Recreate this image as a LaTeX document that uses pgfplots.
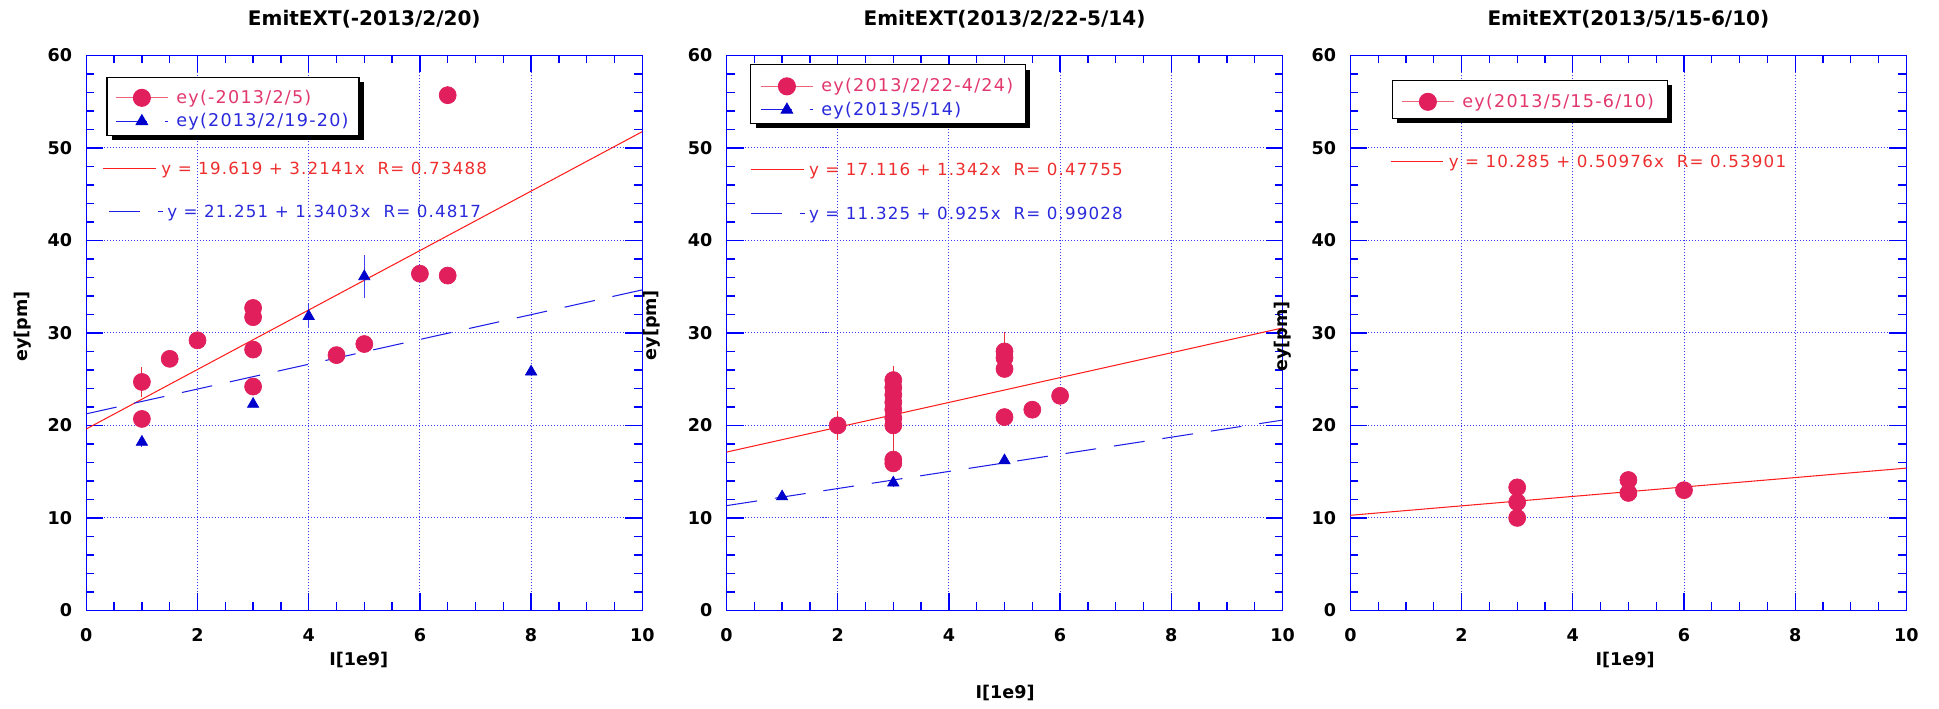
\documentclass[border=0pt]{standalone}
\usepackage{fontspec}
\setmainfont{DejaVu Sans}
\newfontfamily\lgfont[LetterSpace=7]{DejaVu Sans}
\usepackage{pgfplots}
\pgfplotsset{compat=1.18}

\definecolor{frameB}{HTML}{0000FF}
\definecolor{gridB}{HTML}{3A3AFF}
\definecolor{mkRed}{HTML}{E01F5C}
\definecolor{legRed}{HTML}{F06478}
\definecolor{legTxt}{HTML}{E2386E}
\definecolor{fitRed}{HTML}{FF1E1E}
\definecolor{fitTxt}{HTML}{EE2E2E}
\definecolor{blueL}{HTML}{1E1EE6}
\definecolor{blueT}{HTML}{2A2ADC}
\definecolor{triB}{HTML}{0000CC}
\definecolor{errRed}{HTML}{E8303A}
\definecolor{errBlue}{HTML}{4040F0}

\newcommand{\fitfont}{\lgfont\fontsize{9.5}{11}\selectfont}
% legend frame with a black shadow, corners in axis description cs
\newcommand{\legbox}[4]{%
  \fill[black, xshift=0.1cm, yshift=-0.1cm] (axis description cs:#1,#2) rectangle (axis description cs:#3,#4);
  \draw[black, fill=white, line width=0.6pt] (axis description cs:#1,#2) rectangle (axis description cs:#3,#4);}

\pgfplotsset{
  emit/.style={
    scale only axis, width=11.12cm, height=11.1cm,
    anchor=south west,
    xmin=0, xmax=10, ymin=0, ymax=60,
    xtick={0,2,...,10}, ytick={0,10,...,60},
    minor x tick num=3, minor y tick num=4,
    tick align=inside, tick pos=both,
    major tick length=0.34cm, minor tick length=0.16cm,
    axis line style={frameB, line width=0.75pt},
    tick style={frameB, line width=0.75pt},
    grid=major, grid style={gridB, line width=0.5pt, dash pattern=on 0.02cm off 0.04cm},
    /pgf/number format/assume math mode=true,
    ticklabel style={font=\bfseries\fontsize{10}{12}\selectfont, text=black},
    xticklabel style={yshift=-0.24cm},
    yticklabel style={xshift=-0.16cm},
    label style={font=\bfseries\fontsize{10}{12}\selectfont},
    every axis title/.style={at={(0.5,1.0656)}, anchor=center, font=\bfseries\fontsize{11.4}{13}\selectfont},
    xlabel={I[1e9]}, ylabel={ey[pm]},
    legend style={anchor=north west, draw=none, fill=none,
      inner sep=0pt, row sep=0.03cm, column sep=0.1cm,
      nodes={inner sep=0.06cm}, font=\lgfont\fontsize{10}{12}\selectfont},
    legend cell align=left,
    legend image code/.code={\draw[mark repeat=2,mark phase=2,#1]
      plot coordinates {(0cm,0cm) (0.52cm,0cm) (1.04cm,0cm)};},
  },
  redpts/.style={only marks, mark=*, mark size=0.17cm, color=mkRed, forget plot,
    error bars/.cd, y dir=both, y explicit, error mark=none,
    error bar style={errRed, line width=0.6pt}},
  bluepts/.style={only marks, mark=triangle*, mark size=0.13cm, color=triB, forget plot,
    error bars/.cd, y dir=both, y explicit, error mark=none,
    error bar style={errBlue, line width=0.6pt}},
  fitR/.style={fitRed, line width=0.6pt, forget plot},
  fitB/.style={blueL, line width=0.6pt, dash pattern=on 0.62cm off 0.36cm, forget plot},
  legR/.style={legRed, line width=0.6pt, mark=*, mark options={mkRed, mark size=0.17cm}},
  legB/.style={blueL, line width=0.6pt, dash pattern=on 0.62cm off 0.36cm, mark=triangle*,
    mark options={solid, triB, mark size=0.13cm}},
}

\begin{document}
\begin{tikzpicture}
\useasboundingbox (0,0) rectangle (38.78cm,-14.16cm);

% ---- panel 1
\begin{axis}[emit, at={(1.726cm,-12.208cm)},
  title={EmitEXT(-2013/2/20)},
  ylabel style={at={(axis description cs:-0.114,0.512)}, anchor=center},
  xlabel style={at={(axis description cs:0.49,-0.089)}, anchor=center},
  legend style={at={(axis description cs:0.0516,0.944)}}]
\addlegendimage{legR}
\addlegendentry{\textcolor{legTxt}{ey(-2013/2/5)}}
\addlegendimage{legB}
\addlegendentry{\textcolor{blueT}{ey(2013/2/19-20)}}
\addplot[fitR] coordinates {(0,19.619) (10,51.760)};
\addplot[fitB] coordinates {(0,21.251) (10,34.654)};
\addplot[redpts] table[x=x, y=y, y error=e] {
x y e
1 24.7 1.6
1 20.7 0
1.5 27.2 0
2 29.2 0
3 32.7 0
3 31.7 0
3 28.2 0
3 24.2 0
4.5 27.6 0
5 28.8 0
6 36.4 0
6.5 36.2 0
6.5 55.7 1.0
};
\addplot[bluepts] table[x=x, y=y, y error=e] {
x y e
1 18.2 0.5
3 22.3 0.3
4 31.8 1.3
5 36.1 2.3
8 25.8 0.3
};
\legbox{0.0372}{0.961}{0.4905}{0.856}
\draw[fitRed, line width=0.6pt] (axis description cs:0.030,0.797) -- (axis description cs:0.1255,0.797);
\node[anchor=base west, yshift=-0.12cm, inner sep=0, text=fitTxt, font=\fitfont]
  at (axis description cs:0.1345,0.797) {y = 19.619 + 3.2141x\ \ R= 0.73488};
\draw[blueL, line width=0.6pt, dash pattern=on 0.62cm off 0.36cm] (axis description cs:0.041,0.718) -- (axis description cs:0.138,0.718);
\node[anchor=base west, yshift=-0.12cm, inner sep=0, text=blueT, font=\fitfont]
  at (axis description cs:0.145,0.718) {y = 21.251 + 1.3403x\ \ R= 0.4817};
\end{axis}

% ---- panel 2
\begin{axis}[emit, at={(14.53cm,-12.208cm)},
  title={EmitEXT(2013/2/22-5/14)},
  ylabel style={at={(axis description cs:-0.134,0.514)}, anchor=center},
  xlabel style={at={(axis description cs:0.501,-0.149)}, anchor=center},
  legend style={at={(axis description cs:0.0603,0.9647)}}]
\addlegendimage{legR}
\addlegendentry{\textcolor{legTxt}{ey(2013/2/22-4/24)}}
\addlegendimage{legB}
\addlegendentry{\textcolor{blueT}{ey(2013/5/14)}}
\addplot[fitR] coordinates {(0,17.116) (10,30.536)};
\addplot[fitB] coordinates {(0,11.325) (10,20.575)};
\addplot[redpts] table[x=x, y=y, y error=e] {
x y e
2 20.0 1.6
3 24.9 1.5
3 24.1 0
3 23.3 0
3 22.5 0
3 21.7 0
3 20.8 0
3 20.0 3.4
3 16.3 0
3 15.9 0
5 28.0 2.1
5 27.3 0
5 26.1 0
5 20.9 0
5.5 21.7 0
6 23.2 0
};
\addplot[bluepts] table[x=x, y=y, y error=e] {
x y e
1 12.3 0.3
3 13.8 0.5
5 16.2 0.3
};
\legbox{0.0433}{0.983}{0.537}{0.878}
\draw[fitRed, line width=0.6pt] (axis description cs:0.0433,0.795) -- (axis description cs:0.140,0.795);
\node[anchor=base west, yshift=-0.12cm, inner sep=0, text=fitTxt, font=\fitfont]
  at (axis description cs:0.148,0.795) {y = 17.116 + 1.342x\ \ R= 0.47755};
\draw[blueL, line width=0.6pt, dash pattern=on 0.62cm off 0.36cm] (axis description cs:0.0433,0.715) -- (axis description cs:0.141,0.715);
\node[anchor=base west, yshift=-0.12cm, inner sep=0, text=blueT, font=\fitfont]
  at (axis description cs:0.148,0.715) {y = 11.325 + 0.925x\ \ R= 0.99028};
\end{axis}

% ---- panel 3
\begin{axis}[emit, at={(27.008cm,-12.208cm)},
  title={EmitEXT(2013/5/15-6/10)},
  ylabel style={at={(axis description cs:-0.121,0.494)}, anchor=center},
  xlabel style={at={(axis description cs:0.494,-0.089)}, anchor=center},
  legend style={at={(axis description cs:0.091,0.9368)}}]
\addlegendimage{legR}
\addlegendentry{\textcolor{legTxt}{ey(2013/5/15-6/10)}}
\addplot[fitR] coordinates {(0,10.285) (10,15.383)};
\addplot[redpts] table[x=x, y=y, y error=e] {
x y e
3 13.3 0
3 11.7 0
3 10.0 0
5 14.1 0
5 12.7 0
6 13.0 0
};
\legbox{0.0752}{0.955}{0.5703}{0.8867}
\draw[fitRed, line width=0.6pt] (axis description cs:0.0723,0.809) -- (axis description cs:0.1665,0.809);
\node[anchor=base west, yshift=-0.12cm, inner sep=0, text=fitTxt, font=\fitfont]
  at (axis description cs:0.1764,0.809) {y = 10.285 + 0.50976x\ \ R= 0.53901};
\end{axis}
\end{tikzpicture}
\end{document}
